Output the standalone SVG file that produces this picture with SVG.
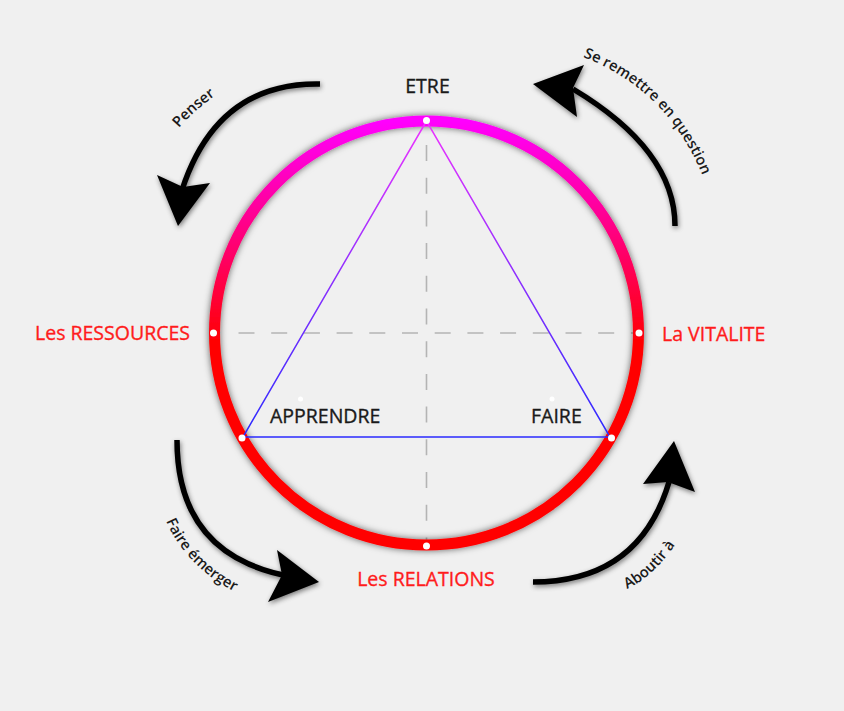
<svg xmlns="http://www.w3.org/2000/svg" width="844" height="711" viewBox="0 0 844 711">
<defs>
<linearGradient id="ringGrad" gradientUnits="userSpaceOnUse" x1="0" y1="120" x2="0" y2="345">
<stop offset="0" stop-color="#ff00ff"/>
<stop offset="1" stop-color="#ff0000"/>
</linearGradient>
<linearGradient id="triGrad" gradientUnits="userSpaceOnUse" x1="0" y1="121" x2="0" y2="437">
<stop offset="0" stop-color="#ee33ff"/>
<stop offset="1" stop-color="#2a2aff"/>
</linearGradient>
<filter id="ringShadow" x="-20%" y="-20%" width="140%" height="140%">
<feGaussianBlur in="SourceAlpha" stdDeviation="3.5" result="b"/>
<feFlood flood-color="#000" flood-opacity="0.6"/>
<feComposite in2="b" operator="in" result="s"/>
<feMerge><feMergeNode in="s"/><feMergeNode in="SourceGraphic"/></feMerge>
</filter>
<filter id="arrowShadow" x="-30%" y="-30%" width="160%" height="160%">
<feGaussianBlur in="SourceAlpha" stdDeviation="2.5" result="b"/>
<feOffset in="b" dx="1" dy="1.5" result="o"/>
<feFlood flood-color="#000" flood-opacity="0.5"/>
<feComposite in2="o" operator="in" result="s"/>
<feMerge><feMergeNode in="s"/><feMergeNode in="SourceGraphic"/></feMerge>
</filter>
<path id="tp1" d="M179,128 Q196,108 226,88"/>
<path id="tp2" d="M583,57 Q674,92 708,190"/>
<path id="tp3" d="M166,521 Q189,573 250,599"/>
<path id="tp4" d="M627,589 Q663,572 688,522"/>
</defs>
<style>
.lbl{font-family:"Open Sans","Liberation Sans",sans-serif;font-size:19.5px;fill:#1a1a1a;stroke:#1a1a1a;stroke-width:0.35}
.red{font-family:"Open Sans","Liberation Sans",sans-serif;font-size:19.5px;fill:#ff1c1c;stroke:#ff1c1c;stroke-width:0.35}
.arl{font-family:"Open Sans","Liberation Sans",sans-serif;font-size:14.8px;font-weight:600;fill:#1a1a1a}
.dash{stroke:#b4b4b4;stroke-width:1.6;stroke-dasharray:16 16.7;fill:none}
.dot{fill:#ffffff}
.arr{fill:none;stroke:#000;stroke-width:5.5}
.head{fill:#000}
.tri{fill:none;stroke:url(#triGrad);stroke-width:1.5}
</style>
<rect width="844" height="711" fill="#f0f0f0"/>

<g id="axes">
<line class="dash" x1="238.5" y1="333" x2="639" y2="333"/>
<line class="dash" x1="426.5" y1="145" x2="426.5" y2="546"/>
</g>

<g id="ring">
<circle cx="426.5" cy="333" r="212" fill="none" stroke="url(#ringGrad)" stroke-width="11" filter="url(#ringShadow)"/>
</g>

<g id="triangle">
<polygon class="tri" points="426.5,121 243,437 610,437"/>
</g>

<g id="dots">
<circle class="dot" cx="426.5" cy="120.5" r="3.5"/>
<circle class="dot" cx="213.5" cy="333" r="3.5"/>
<circle class="dot" cx="639" cy="333" r="3.5"/>
<circle class="dot" cx="426.5" cy="546" r="3.5"/>
<circle class="dot" cx="242" cy="438" r="3.5"/>
<circle class="dot" cx="611.5" cy="438" r="3.5"/>
<circle class="dot" cx="300.5" cy="399" r="2.5"/>
<circle class="dot" cx="552" cy="399" r="2.5"/>
</g>

<g id="node-etre"><text class="lbl" x="427.5" y="93" text-anchor="middle">ETRE</text></g>
<g id="node-ressources"><text class="red" x="190" y="340" text-anchor="end">Les RESSOURCES</text></g>
<g id="node-vitalite"><text class="red" x="662" y="341">La VITALITE</text></g>
<g id="node-relations"><text class="red" x="426" y="586" text-anchor="middle">Les RELATIONS</text></g>
<g id="node-apprendre"><text class="lbl" x="270" y="423">APPRENDRE</text></g>
<g id="node-faire"><text class="lbl" x="531" y="423">FAIRE</text></g>

<g id="connectors" filter="url(#arrowShadow)">
<g id="arrow-penser">
<path class="arr" d="M320,84 Q217,82 182,190"/>
<polygon class="head" points="157,175 183,187 210,183 178,226"/>
</g>
<g id="arrow-question">
<path class="arr" d="M675,226 Q675,150 573,89"/>
<polygon class="head" points="533,84 584,65 573,88 577,117"/>
</g>
<g id="arrow-emerger">
<path class="arr" d="M177,440 Q177,552 283,575"/>
<polygon class="head" points="277,550 282,575 268,602 319,582"/>
</g>
<g id="arrow-aboutir">
<path class="arr" d="M533,582 Q639,582 669,482"/>
<polygon class="head" points="674,441 695,492 668,482 643,484"/>
</g>
</g>

<g id="connector-labels">
<text class="arl"><textPath href="#tp1">Penser</textPath></text>
<text class="arl"><textPath href="#tp2">Se remettre en question</textPath></text>
<text class="arl"><textPath href="#tp3">Faire émerger</textPath></text>
<text class="arl"><textPath href="#tp4">Aboutir à</textPath></text>
</g>
</svg>
